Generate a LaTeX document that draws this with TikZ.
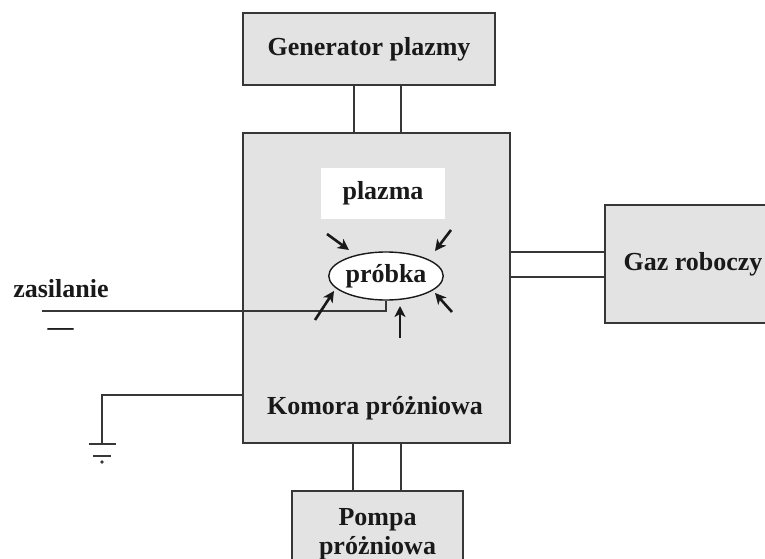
\documentclass[tikz,border=0pt]{standalone}
\usepackage{fontspec}
\setmainfont{Liberation Serif}
\usetikzlibrary{arrows.meta,shapes.geometric}
\definecolor{boxfill}{RGB}{227,227,227}
\definecolor{edge}{RGB}{55,55,55}
\definecolor{ink}{RGB}{25,25,25}
\begin{document}
\begin{tikzpicture}[x=1pt,y=-1pt,
  lbl/.style={font=\fontsize{26}{30}\selectfont\bfseries, text=ink},
  blk/.style={draw=edge, line width=1.6pt, fill=boxfill, inner sep=0pt, lbl, align=center},
  wire/.style={draw=edge, line width=1.6pt},
  ray/.style={draw=ink, line width=2.6pt, -{Stealth[length=11pt,width=11pt,inset=3pt]}}]
\useasboundingbox (0,0) rectangle (765,559);
\fill[white] (0,0) rectangle (765,559);
% blocks
\node[blk, minimum width=252pt, minimum height=72pt] (gen) at (369,49) {Generator plazmy};
\node[blk, minimum width=267pt, minimum height=310pt] (cham) at (376.5,288) {};
\node[blk, minimum width=176pt, minimum height=118pt] (gaz) at (693,264) {Gaz roboczy};
\node[blk, minimum width=171pt, minimum height=86pt] (pump) at (377.5,534) {Pompa\\[-1pt]próżniowa};
% chamber contents
\node[fill=white, inner sep=0pt, minimum width=124pt, minimum height=51pt, lbl] (plaz) at (383,193.5) {plazma};
\node[lbl] (kom) at (375,408) {Komora próżniowa};
\node[ellipse, draw=ink, line width=1.4pt, fill=white, inner sep=0pt, minimum width=95pt, minimum height=48pt, lbl] (prob) at (386,276) {próbka};
% pipes generator -> chamber
\draw[wire] ([xshift=-15pt]gen.south) -- ([xshift=-15pt]gen.south |- cham.north);
\draw[wire] ([xshift=32pt]gen.south) -- ([xshift=32pt]gen.south |- cham.north);
% pipes chamber -> gaz
\draw[wire] ([yshift=12pt]gaz.west) -- ([yshift=12pt]gaz.west -| cham.east);
\draw[wire] ([yshift=-13pt]gaz.west) -- ([yshift=-13pt]gaz.west -| cham.east);
% pipes chamber -> pump
\draw[wire] ([xshift=-24.5pt]pump.north) -- ([xshift=-24.5pt]pump.north |- cham.south);
\draw[wire] ([xshift=23.5pt]pump.north) -- ([xshift=23.5pt]pump.north |- cham.south);
% supply wire
\coordinate (wk) at (386,311);
\coordinate (wend) at (42,311);
\draw[wire] (prob.south) -- (wk) -- (wend);
\node[lbl, anchor=base] (zas) at (61,297) {zasilanie};
\node[lbl, anchor=base] (minus) at (60.5,335) {—};
% ground
\coordinate (gk) at (102,395);
\coordinate (gnd) at (102,444);
\draw[wire] (cham.west |- gk) -- (gk) -- (gnd);
\draw[wire] ([xshift=-13.5pt]gnd) -- ([xshift=13.5pt]gnd);
\draw[wire] ([xshift=-9pt,yshift=-12pt]gnd) -- ([xshift=9pt,yshift=-12pt]gnd);
\fill[edge] ([yshift=-18pt]gnd) circle (1.8pt);
% arrows toward the sample
\coordinate (a1s) at (327,234); \coordinate (a1e) at (349,250);
\coordinate (a2s) at (451,230); \coordinate (a2e) at (435,251);
\coordinate (a3s) at (315,320); \coordinate (a3e) at (334,291);
\coordinate (a4s) at (452,312); \coordinate (a4e) at (435,293);
\coordinate (a5s) at (400,338); \coordinate (a5e) at (400,306);
\draw[ray] (a1s) -- (a1e);
\draw[ray] (a2s) -- (a2e);
\draw[ray] (a3s) -- (a3e);
\draw[ray] (a4s) -- (a4e);
\draw[ray] (a5s) -- (a5e);
\end{tikzpicture}
\end{document}
